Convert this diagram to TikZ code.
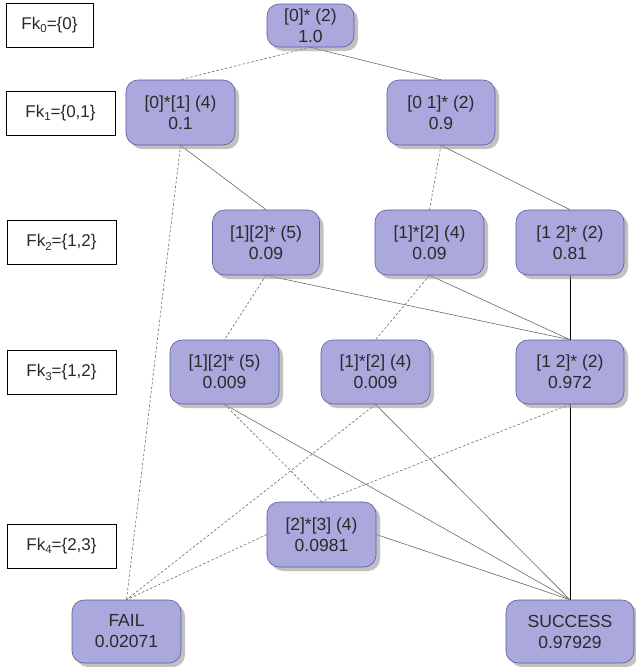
\documentclass[tikz,border=0pt]{standalone}
\usepackage{fontspec}
\setmainfont{Liberation Sans}
\usetikzlibrary{shadows,backgrounds}
\definecolor{boxfill}{HTML}{AAA8DC}
\definecolor{boxedge}{HTML}{5C5A9E}
\definecolor{txt}{HTML}{2A2A2A}
\definecolor{lnk}{HTML}{6A6A6A}
\newcommand{\lowidx}[1]{\raisebox{-0.4ex}{\fontsize{11.5}{11.5}\selectfont #1}}
\begin{document}
\begin{tikzpicture}[x=1pt,y=-1pt,
  state/.style={draw=boxedge, fill=boxfill, rounded corners=12pt,
    minimum width=109pt, minimum height=65pt, align=center, text=txt,
    font=\fontsize{17.5}{21}\selectfont, inner sep=0pt, line width=0.6pt,
    drop shadow={shadow xshift=4pt, shadow yshift=-4pt, fill=black!40, opacity=0.6}},
  level/.style={draw=black, fill=white, line width=0.6pt, minimum width=109pt,
    minimum height=44pt, inner sep=0pt, text=txt, font=\fontsize{17}{21}\selectfont},
  ok/.style={draw=lnk, line width=0.6pt},
  bad/.style={draw=lnk, line width=0.6pt, dash pattern=on 2.5pt off 2pt},
  main/.style={draw=black, line width=0.9pt}]

\useasboundingbox (0,0) rectangle (635,667);

% level labels
\node[level, minimum width=87pt] (fk0) at (49.5,25) {Fk\lowidx{0}=\{0\}};
\node[level] (fk1) at (60.5,113) {Fk\lowidx{1}=\{0,1\}};
\node[level] (fk2) at (61.5,242.5) {Fk\lowidx{2}=\{1,2\}};
\node[level] (fk3) at (61.5,372.5) {Fk\lowidx{3}=\{1,2\}};
\node[level] (fk4) at (61.5,546) {Fk\lowidx{4}=\{2,3\}};

% states
\node[state, minimum width=87pt, minimum height=43pt] (root) at (310.5,25.5) {[0]* (2)\\1.0};
\node[state] (n0a) at (180.5,112.5) {[0]*[1] (4)\\0.1};
\node[state, minimum width=108pt] (n0b) at (441,112.5) {[0 1]* (2)\\0.9};
\node[state, minimum width=107pt] (r2a) at (266,242.5) {[1][2]* (5)\\0.09};
\node[state] (r2b) at (429.5,242.5) {[1]*[2] (4)\\0.09};
\node[state, minimum width=108pt] (r2c) at (570,242.5) {[1 2]* (2)\\0.81};
\node[state, minimum height=64pt] (r3a) at (224.5,372) {[1][2]* (5)\\0.009};
\node[state, minimum height=64pt] (r3b) at (375.5,372) {[1]*[2] (4)\\0.009};
\node[state, minimum width=108pt, minimum height=64pt] (r3c) at (570,372) {[1 2]* (2)\\0.972};
\node[state] (r4) at (321.5,534.5) {[2]*[3] (4)\\0.0981};
\node[state, minimum height=63pt] (fail) at (126.5,631.5) {FAIL\\0.02071};
\node[state, minimum width=128pt, minimum height=63pt] (succ) at (570,631.5) {SUCCESS\\0.97929};

% white page, then transitions beneath the states
\begin{scope}[on background layer]
\fill[white] (0,0) rectangle (635,667);
\draw[bad] (root.south) -- (n0a.north);
\draw[ok]  (root.south) -- (n0b.north);
\draw[bad] (n0a.south) -- (fail.north);
\draw[ok]  (n0a.south) -- (r2a.north);
\draw[bad] (n0b.south) -- (r2b.north);
\draw[ok]  (n0b.south) -- (r2c.north);
\draw[bad] (r2a.south) -- (r3a.north);
\draw[ok]  (r2a.south) -- (r3c.north);
\draw[bad] (r2b.south) -- (r3b.north);
\draw[ok]  (r2b.south) -- (r3c.north);
\draw[main] (r2c.south) -- (r3c.north);
\draw[bad] (r3a.south) -- (r4.north);
\draw[ok]  (r3a.south) -- (succ.north);
\draw[bad] (r3b.south) -- (fail.north);
\draw[ok]  (r3b.south) -- (succ.north);
\draw[bad] (r3c.south) -- (r4.north);
\draw[main] (r3c.south) -- (succ.north);
\draw[bad] (r4.west) -- (fail.north);
\draw[ok]  (r4.east) -- (succ.north);
\end{scope}
\end{tikzpicture}
\end{document}
